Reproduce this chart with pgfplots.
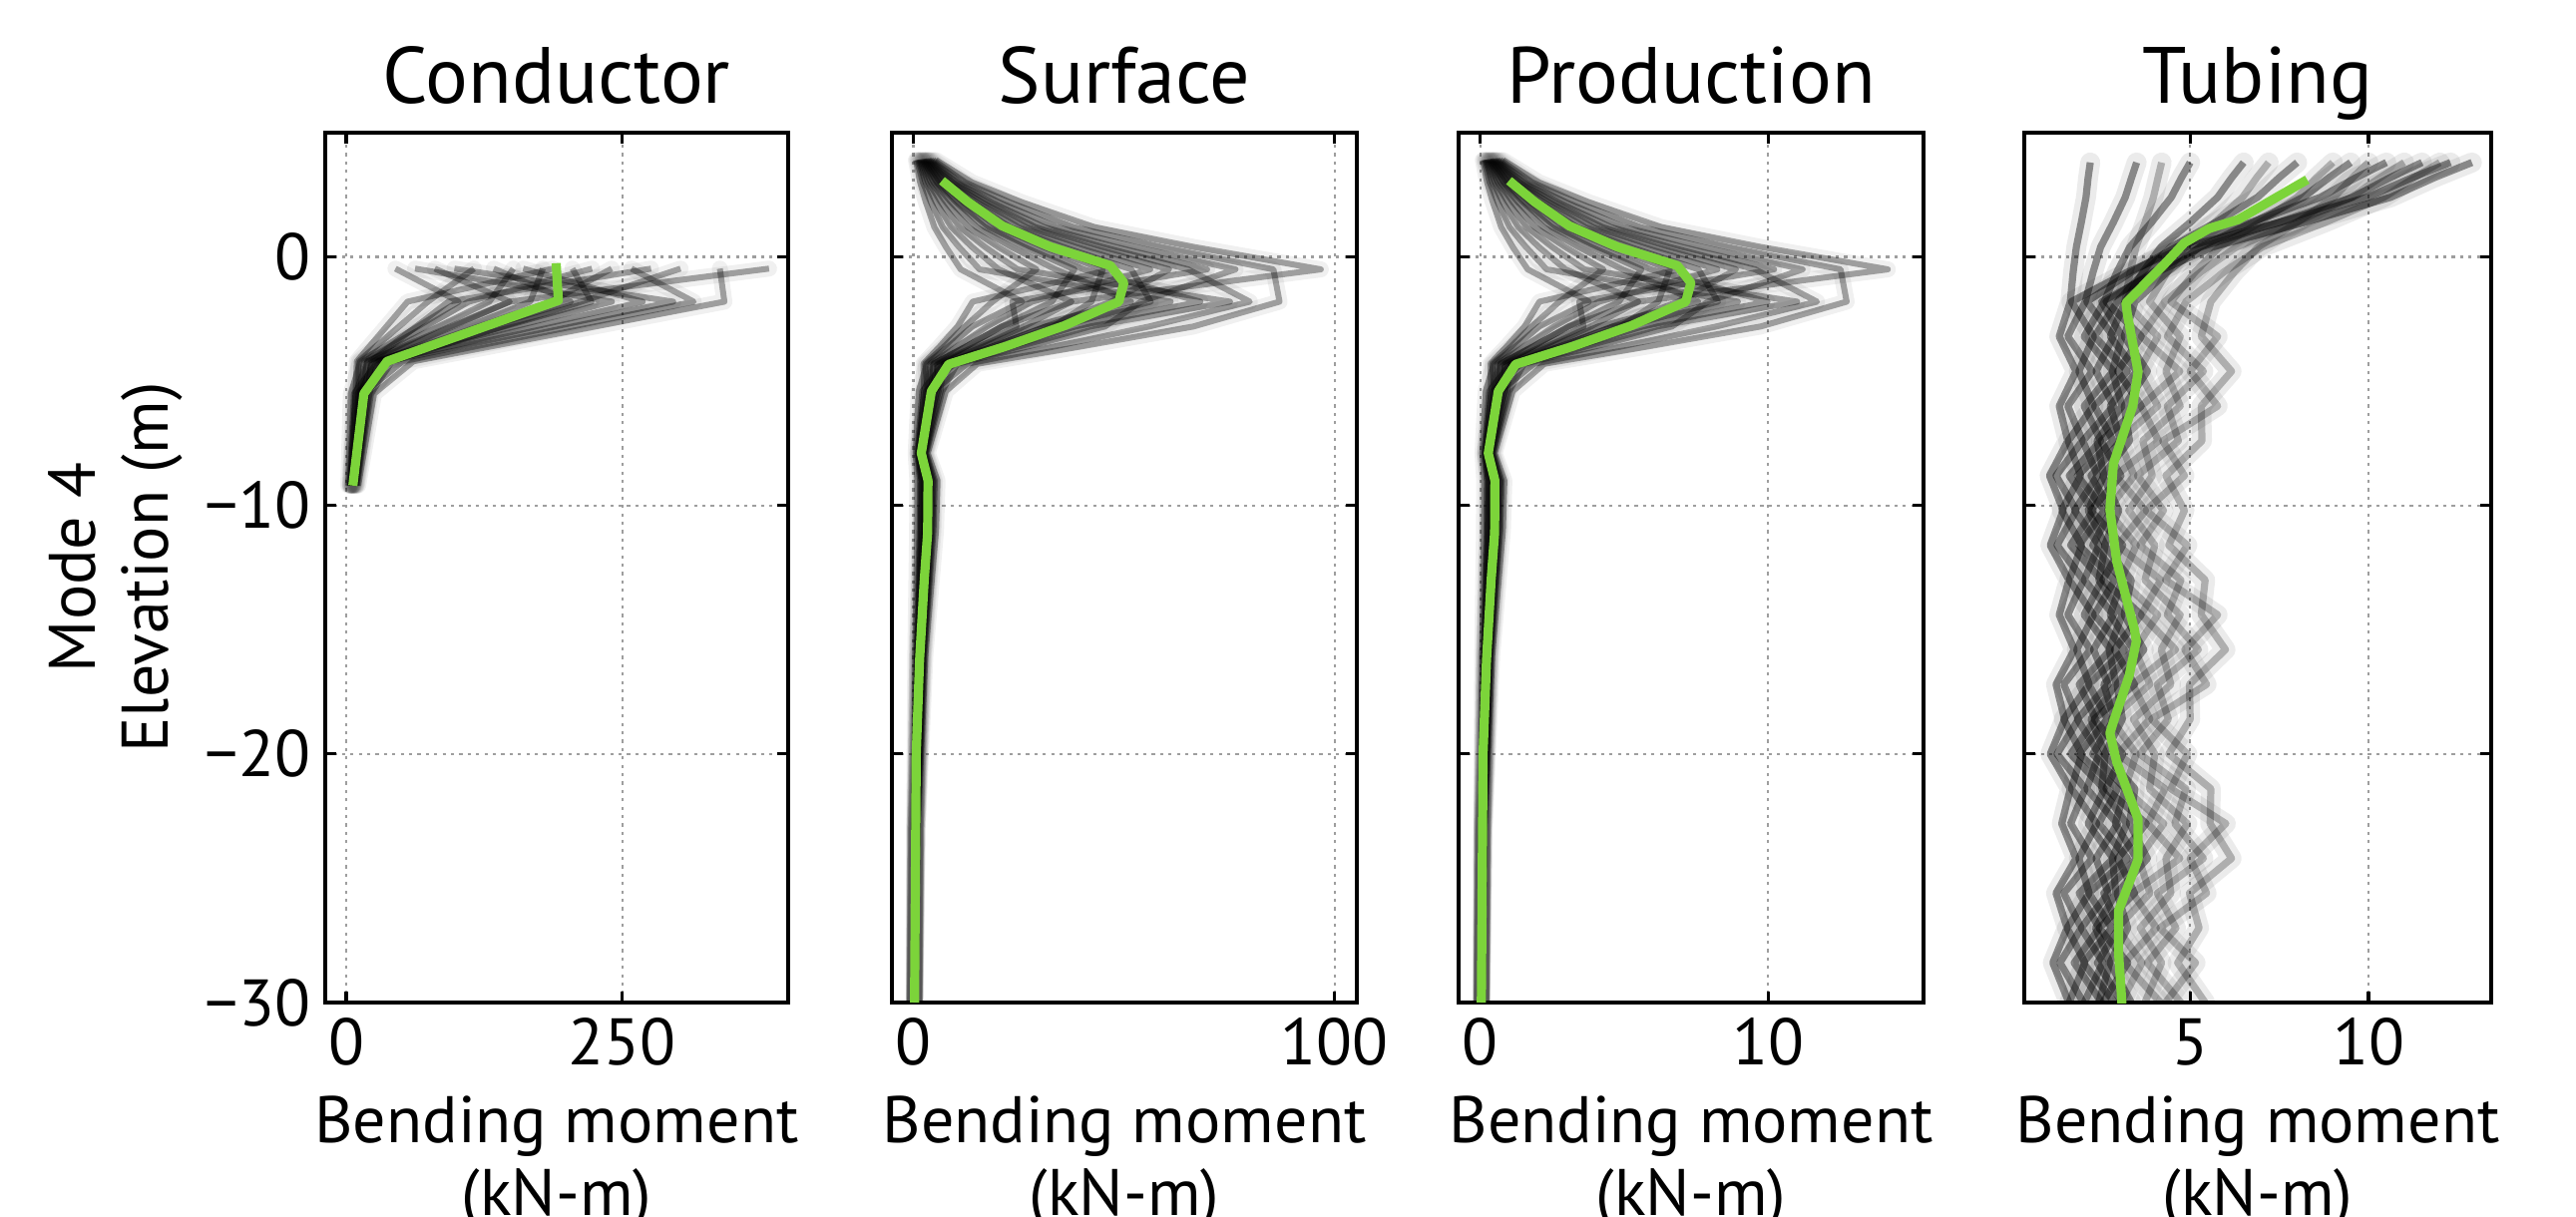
\documentclass[border=0pt]{standalone}
\usepackage{fontspec}
\setmainfont{PT Sans}
\usepackage{pgfplots}
\usepackage{pgfplotstable}
\pgfplotsset{compat=1.18}
\definecolor{meangreen}{RGB}{124,212,58}
\newcommand{\lblfont}{\fontsize{16.5}{19.8}\selectfont}
\newcommand{\ttlfont}{\fontsize{20}{24}\selectfont}

% Conductor ensemble
\pgfplotstableread{
y l1 l2 l3 l4 l5 l6 l7 l8 l9 l10 l11 l12 l13 l14 l15 l16 l17 l18
-0.47 44.5 62.3 80.1 97.9 115.7 133.5 151.3 160.2 178 186.9 204.7 222.5 240.3 258.1 275.9 302.6 338.2 382.7
-1.8 101.8 240.5 148 296 74 203.5 129.5 268.3 166.5 55.5 222 111 185 314.5 92.5 212.8 342.3 148
-4.2 12.8 28.8 19.2 38.4 11.2 25.6 19.2 35.2 30.4 9.6 32 16 28.8 51.2 22.4 41.6 60.8 24
-5.5 4.2 7 8.4 9.8 11.2 12.6 14 15.4 16.8 8.4 18.2 12.6 21 15.4 19.6 22.4 25.2 14
-9.2 1.8 3 3.6 4.2 4.8 5.4 6 6.6 7.2 3.6 7.8 5.4 9 6.6 8.4 9.6 10.8 6
}\tabC

% Surface ensemble
\pgfplotstableread{
y l1 l2 l3 l4 l5 l6 l7 l8 l9 l10 l11 l12 l13 l14 l15 l16 l17 l18
3.9 0.63 0.88 1.13 1.38 1.63 1.88 2.13 2.25 2.5 2.63 2.88 3.13 3.38 3.63 3.88 4.25 4.75 5.38
3.0 1.63 2.28 2.93 3.58 4.23 4.88 5.53 5.85 6.5 6.83 7.48 8.13 8.78 9.43 10.08 11.05 12.35 13.98
2.2 3 4.2 5.4 6.6 7.8 9 10.2 10.8 12 12.6 13.8 15 16.2 17.4 18.6 20.4 22.8 25.8
1.2 5 7 9 11 13 15 17 18 20 21 23 25 27 29 31 34 38 43
0.4 7.75 10.85 13.95 17.05 20.15 23.25 26.35 27.9 31 32.55 35.65 38.75 41.85 44.95 48.05 52.7 58.9 66.65
-0.5 11.25 15.75 20.25 24.75 29.25 33.75 38.25 40.5 45 47.25 51.75 56.25 60.75 65.25 69.75 76.5 85.5 96.75
-1.8 25.85 61.1 37.6 75.2 18.8 51.7 32.9 68.15 42.3 14.1 56.4 28.2 47 79.9 23.5 54.05 86.95 37.6
-2.8 14 31.5 21 42 12.25 28 21 38.5 33.25 10.5 35 17.5 31.5 56 24.5 45.5 66.5 26.25
-3.6 8.4 18.9 12.6 25.2 7.35 16.8 12.6 23.1 19.95 6.3 21 10.5 18.9 33.6 14.7 27.3 39.9 15.75
-4.3 3.2 7.2 4.8 9.6 2.8 6.4 4.8 8.8 7.6 2.4 8 4 7.2 12.8 5.6 10.4 15.2 6
-5.4 1.29 2.15 2.58 3.01 3.44 3.87 4.3 4.73 5.16 2.58 5.59 3.87 6.45 4.73 6.02 6.88 7.74 4.3
-7.9 0.57 0.95 1.14 1.33 1.52 1.71 1.9 2.09 2.28 1.14 2.47 1.71 2.85 2.09 2.66 3.04 3.42 1.9
-9.0 0.96 1.6 1.92 2.24 2.56 2.88 3.2 3.52 3.84 1.92 4.16 2.88 4.8 3.52 4.48 5.12 5.76 3.2
-11 0.9 1.5 1.8 2.1 2.4 2.7 3 3.3 3.6 1.8 3.9 2.7 4.5 3.3 4.2 4.8 5.4 3
-16 0.48 0.8 0.96 1.12 1.28 1.44 1.6 1.76 1.92 0.96 2.08 1.44 2.4 1.76 2.24 2.56 2.88 1.6
-23 0.18 0.3 0.36 0.42 0.48 0.54 0.6 0.66 0.72 0.36 0.78 0.54 0.9 0.66 0.84 0.96 1.08 0.6
-30 0.09 0.15 0.18 0.21 0.24 0.27 0.3 0.33 0.36 0.18 0.39 0.27 0.45 0.33 0.42 0.48 0.54 0.3
}\tabS

% Production ensemble
\pgfplotstableread{
y l1 l2 l3 l4 l5 l6 l7 l8 l9 l10 l11 l12 l13 l14 l15 l16 l17 l18
3.9 0.09 0.13 0.17 0.20 0.24 0.28 0.31 0.33 0.37 0.38 0.42 0.46 0.49 0.53 0.57 0.62 0.70 0.79
3.0 0.24 0.33 0.43 0.52 0.62 0.71 0.81 0.86 0.95 1.00 1.10 1.19 1.29 1.38 1.48 1.62 1.81 2.05
2.2 0.44 0.61 0.79 0.97 1.14 1.32 1.49 1.58 1.76 1.84 2.02 2.20 2.37 2.55 2.72 2.99 3.34 3.78
1.2 0.73 1.02 1.32 1.61 1.90 2.20 2.49 2.64 2.93 3.07 3.37 3.66 3.95 4.25 4.54 4.98 5.56 6.30
0.4 1.13 1.59 2.04 2.50 2.95 3.40 3.86 4.08 4.54 4.77 5.22 5.67 6.13 6.58 7.03 7.72 8.62 9.76
-0.5 1.65 2.31 2.96 3.62 4.28 4.94 5.60 5.93 6.59 6.92 7.58 8.24 8.89 9.55 10.21 11.20 12.52 14.16
-1.8 3.78 8.95 5.50 11.01 2.75 7.57 4.82 9.98 6.19 2.06 8.26 4.13 6.88 11.70 3.44 7.91 12.73 5.50
-2.8 2.05 4.61 3.07 6.15 1.79 4.10 3.07 5.64 4.87 1.54 5.12 2.56 4.61 8.20 3.59 6.66 9.74 3.84
-3.6 1.23 2.77 1.84 3.69 1.08 2.46 1.84 3.38 2.92 0.92 3.07 1.54 2.77 4.92 2.15 4.00 5.84 2.31
-4.3 0.47 1.05 0.70 1.41 0.41 0.94 0.70 1.29 1.11 0.35 1.17 0.59 1.05 1.87 0.82 1.52 2.23 0.88
-5.4 0.19 0.31 0.38 0.44 0.50 0.57 0.63 0.69 0.76 0.38 0.82 0.57 0.94 0.69 0.88 1.01 1.13 0.63
-7.9 0.08 0.14 0.17 0.19 0.22 0.25 0.28 0.31 0.33 0.17 0.36 0.25 0.42 0.31 0.39 0.45 0.50 0.28
-9.0 0.14 0.23 0.28 0.33 0.37 0.42 0.47 0.52 0.56 0.28 0.61 0.42 0.70 0.52 0.66 0.75 0.84 0.47
-11 0.13 0.22 0.26 0.31 0.35 0.40 0.44 0.48 0.53 0.26 0.57 0.40 0.66 0.48 0.61 0.70 0.79 0.44
-16 0.07 0.12 0.14 0.16 0.19 0.21 0.23 0.26 0.28 0.14 0.30 0.21 0.35 0.26 0.33 0.37 0.42 0.23
-23 0.03 0.04 0.05 0.06 0.07 0.08 0.09 0.10 0.11 0.05 0.11 0.08 0.13 0.10 0.12 0.14 0.16 0.09
-30 0.01 0.02 0.03 0.03 0.04 0.04 0.04 0.05 0.05 0.03 0.06 0.04 0.07 0.05 0.06 0.07 0.08 0.04
}\tabP

% Tubing ensemble
\pgfplotstableread{
y l1 l2 l3 l4 l5 l6 l7 l8 l9 l10 l11 l12 l13 l14 l15 l16
3.8 2.2 3.5 12.3 5.0 10.5 8.0 12.9 6.5 11.5 9.5 4.2 11.0 7.2 12.0 9.0 10.0
3.2 2.14 3.36 11.24 4.76 9.66 7.50 11.86 6.17 10.61 8.90 4.10 10.33 6.87 11.29 8.55 9.56
2.4 2.08 3.18 9.96 4.47 8.65 6.89 10.62 5.77 9.55 8.17 3.97 9.52 6.47 10.43 8.00 9.03
1.4 1.95 2.85 7.52 3.92 6.72 5.73 8.23 5.01 7.51 6.78 3.74 7.98 5.70 8.80 6.96 8.01
0.4 1.81 2.49 4.86 3.31 4.62 4.47 5.63 4.18 5.30 5.27 3.48 6.30 4.86 7.02 5.82 6.91
-0.6 1.72 2.28 3.26 2.95 3.36 3.72 4.08 3.68 3.97 4.36 3.32 5.30 4.36 5.95 5.14 6.24
-1.8 1.64 2.06 1.67 2.59 2.10 2.96 2.52 3.18 2.64 3.45 3.17 4.29 3.86 4.88 4.46 5.58
-3.2 1.33 1.57 2.29 2.03 2.85 2.32 3.09 2.76 3.63 3.15 4.09 3.63 4.72 4.36 5.77 5.31
-4.6 1.80 2.25 1.88 2.84 2.36 3.24 2.82 3.50 2.97 3.80 3.56 4.71 4.32 5.37 5.00 6.16
-6.0 1.33 1.57 2.29 2.03 2.85 2.32 3.09 2.76 3.63 3.15 4.09 3.63 4.72 4.36 5.77 5.31
-7.4 1.57 1.98 1.58 2.49 1.99 2.84 2.39 3.05 2.50 3.30 3.01 4.11 3.67 4.67 4.23 5.33
-8.8 1.06 1.24 1.93 1.61 2.40 1.84 2.58 2.22 3.06 2.55 3.43 2.91 3.94 3.52 4.84 4.32
-10.2 1.44 1.81 1.40 2.28 1.76 2.60 2.14 2.78 2.21 3.00 2.68 3.75 3.28 4.25 3.76 4.84
-11.6 1.08 1.27 1.96 1.65 2.44 1.88 2.62 2.27 3.11 2.60 3.49 2.97 4.01 3.59 4.92 4.40
-13.0 1.60 2.01 1.61 2.52 2.03 2.88 2.44 3.09 2.55 3.35 3.06 4.17 3.73 4.74 4.31 5.42
-14.4 1.33 1.57 2.29 2.03 2.85 2.32 3.09 2.76 3.63 3.15 4.09 3.63 4.72 4.36 5.77 5.31
-15.8 1.75 2.20 1.82 2.77 2.29 3.16 2.73 3.41 2.88 3.70 3.45 4.59 4.19 5.23 4.85 5.99
-17.2 1.24 1.46 2.17 1.89 2.70 2.16 2.92 2.58 3.44 2.95 3.87 3.39 4.46 4.08 5.46 4.98
-18.6 1.48 1.87 1.46 2.35 1.84 2.68 2.22 2.87 2.31 3.10 2.79 3.87 3.41 4.39 3.92 5.00
-20.0 1.08 1.27 1.96 1.65 2.44 1.88 2.62 2.27 3.11 2.60 3.49 2.97 4.01 3.59 4.92 4.40
-21.4 1.64 2.06 1.67 2.59 2.10 2.96 2.52 3.18 2.64 3.45 3.17 4.29 3.86 4.88 4.46 5.58
-22.8 1.40 1.65 2.38 2.14 2.96 2.44 3.22 2.90 3.77 3.30 4.26 3.81 4.92 4.57 6.00 5.56
-24.2 1.80 2.25 1.88 2.84 2.36 3.24 2.82 3.50 2.97 3.80 3.56 4.71 4.32 5.37 5.00 6.16
-25.6 1.24 1.46 2.17 1.89 2.70 2.16 2.92 2.58 3.44 2.95 3.87 3.39 4.46 4.08 5.46 4.98
-27.0 1.55 1.95 1.55 2.45 1.95 2.80 2.35 3.00 2.45 3.25 2.95 4.05 3.60 4.60 4.15 5.25
-28.4 1.15 1.35 2.05 1.75 2.55 2.00 2.75 2.40 3.25 2.75 3.65 3.15 4.20 3.80 5.15 4.65
-30.0 1.60 2.01 1.61 2.52 2.03 2.88 2.44 3.09 2.55 3.35 3.06 4.17 3.73 4.74 4.31 5.42
}\tabT

\pgfplotsset{
  panel/.style={
    scale only axis, anchor=south west, height=218pt,
    ymin=-30, ymax=5,
    ytick={-30,-20,-10,0}, yticklabels={},
    tick align=inside, tick pos=both,
    grid=major,
    major grid style={dash pattern=on 0.8pt off 1.3pt, black!38, line width=0.55pt},
    axis line style={line width=0.8pt},
    major tick length=2.8pt,
    major tick style={black, line width=0.8pt},
    tick label style={font=\lblfont},
    xticklabel style={anchor=base, yshift=-15.5pt},
    yticklabel style={anchor=east, inner sep=0pt, xshift=-3.5pt},
    every axis title/.style={at={(0.5,1)}, anchor=base, yshift=7.5pt, font=\ttlfont},
  },
  halo/.style={black, opacity=0.06, line width=4pt, line join=round, line cap=round, forget plot},
  grey/.style={black, opacity=0.34, line width=1.5pt, line join=round, forget plot},
  mean/.style={meangreen, line width=2.3pt, line join=round},
}

\begin{document}
\begin{tikzpicture}

% ---------- Conductor ----------
\begin{axis}[panel, at={(81.5pt,-251.25pt)}, width=116pt,
  xmin=-19, xmax=400, xtick={0,250}, xticklabels={0,250},
  yticklabels={−30,−20,−10,0}, title={Conductor}]
\pgfplotsinvokeforeach{1,...,18}{\addplot[halo] table[x=l#1, y=y]{\tabC};}
\pgfplotsinvokeforeach{1,...,18}{\addplot[grey] table[x=l#1, y=y]{\tabC};}
\addplot[mean] coordinates {(190,-0.25) (192,-1.75) (37,-4.2) (16,-5.5) (6,-9.2)};
\end{axis}

% ---------- Surface ----------
\begin{axis}[panel, at={(223.5pt,-251.25pt)}, width=116.5pt,
  xmin=-5.07, xmax=105.3, xtick={0,100}, xticklabels={0,100}, title={Surface}]
\pgfplotsinvokeforeach{1,...,18}{\addplot[halo] table[x=l#1, y=y]{\tabS};}
\pgfplotsinvokeforeach{1,...,18}{\addplot[grey] table[x=l#1, y=y]{\tabS};}
\addplot[mean] coordinates {(6.8,3.07) (12.9,2.22) (21.1,1.25) (32.5,0.41) (46.8,-0.35) (50,-1.04) (48.8,-1.8) (35.8,-2.77) (21.9,-3.6) (8.4,-4.32) (4.3,-5.4) (1.9,-7.9) (3.5,-9.0) (3.4,-11.1) (2.6,-13) (1.5,-16.2) (0.7,-20) (0.3,-30)};
\end{axis}

% ---------- Production ----------
\begin{axis}[panel, at={(365.5pt,-251.25pt)}, width=116.5pt,
  xmin=-0.75, xmax=15.4, xtick={0,10}, xticklabels={0,10}, title={Production}]
\pgfplotsinvokeforeach{1,...,18}{\addplot[halo] table[x=l#1, y=y]{\tabP};}
\pgfplotsinvokeforeach{1,...,18}{\addplot[grey] table[x=l#1, y=y]{\tabP};}
\addplot[mean] coordinates {(1.0,3.07) (1.89,2.22) (3.09,1.25) (4.76,0.41) (6.85,-0.35) (7.32,-1.04) (7.14,-1.8) (5.24,-2.77) (3.21,-3.6) (1.23,-4.32) (0.63,-5.4) (0.28,-7.9) (0.51,-9.0) (0.5,-11.1) (0.38,-13) (0.22,-16.2) (0.1,-20) (0.04,-30)};
\end{axis}

% ---------- Tubing ----------
\begin{axis}[panel, at={(507.25pt,-251.25pt)}, width=117pt,
  xmin=0.35, xmax=13.44, xtick={5,10}, xticklabels={5,10}, title={Tubing}]
\pgfplotsinvokeforeach{1,...,16}{\addplot[halo, opacity=0.08, line width=5pt] table[x=l#1, y=y]{\tabT};}
\pgfplotsinvokeforeach{1,...,10}{\addplot[grey, opacity=0.42, line width=1.8pt] table[x=l#1, y=y]{\tabT};}
\pgfplotsinvokeforeach{11,...,16}{\addplot[grey, opacity=0.26, line width=1.8pt] table[x=l#1, y=y]{\tabT};}
\addplot[mean] coordinates {(8.28,3.11) (6.34,1.50) (5.54,1.15) (4.84,0.57) (4.24,-0.35) (3.20,-1.85) (3.24,-2.31) (3.54,-4.62) (3.39,-6.0) (2.85,-8.31) (2.75,-10.16) (2.94,-12.24) (3.44,-15.0) (3.49,-15.47) (3.29,-16.85) (2.85,-18.70) (2.75,-19.16) (2.94,-20.32) (3.54,-22.62) (3.54,-24.24) (2.99,-26.32) (2.99,-27.93) (3.09,-30.1)};
\end{axis}

% ---------- shared labels ----------
\node[rotate=90, anchor=base, font=\lblfont] at (23.75pt,-142.25pt) {Mode 4};
\node[rotate=90, anchor=base, font=\lblfont] at (42pt,-142.25pt) {Elevation (m)};
\foreach \cx in {139.5pt,281.75pt,423.75pt,565.75pt}{
  \node[anchor=base, font=\lblfont, inner sep=0pt] at (\cx,-286.25pt) {Bending moment};
  \node[anchor=base, font=\lblfont, inner sep=0pt] at (\cx,-304.5pt) {(kN-m)};
}

\pgfresetboundingbox
\path[use as bounding box] (0,0) rectangle (645.5pt,-305pt);
\end{tikzpicture}
\end{document}
